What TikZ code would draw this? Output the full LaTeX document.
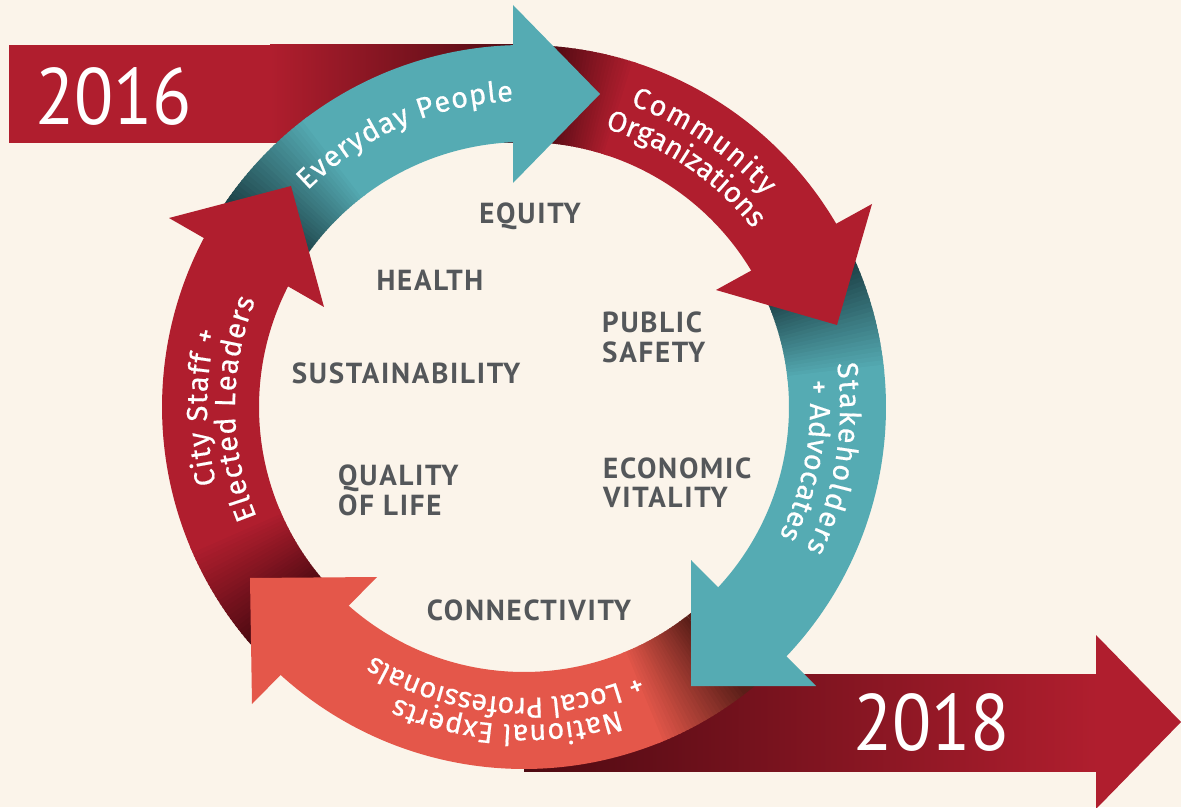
\documentclass[tikz,border=0pt]{standalone}
\usepackage{fontspec}
\setmainfont{PT Sans}
\newfontfamily\arcfam{Fira Sans}[FakeBold=0.5]
\newfontfamily\lblfam{PT Sans}[LetterSpace=6]
\usetikzlibrary{decorations.text}
\definecolor{bg}{HTML}{FBF4EA}
\definecolor{cred}{HTML}{B01E2E}
\definecolor{cteal}{HTML}{55ABB3}
\definecolor{csalmon}{HTML}{E4574A}
\definecolor{cgray}{HTML}{54575A}
\definecolor{dred}{HTML}{4E0A12}
\definecolor{dteal}{HTML}{1C4046}
\definecolor{dsalmon}{HTML}{5A1E18}
\newcommand\annsec[3]{\fill[#3] (#1:362) arc[start angle=#1,end angle=#2,radius=362] -- (#2:265) arc[start angle=#2,end angle=#1,radius=265] -- cycle;}
\newcommand\gradsec[5]{\foreach \k in {0,...,#5}{\pgfmathsetmacro\gA{#1+(#2-#1)*\k/(#5+1)}\pgfmathsetmacro\gB{#1+(#2-#1)*(\k+1)/(#5+1)-0.3}\pgfmathtruncatemacro\gP{100*\k/#5}\annsec{\gA}{\gB}{#4!\gP!#3}}}
\newcommand\arcfont{\arcfam\fontsize{29}{29}\selectfont}
\newcommand\arctext[4]{\path[decorate,decoration={text along path,text align={fit to path},text color=white,text={|\arcfont|#4}}] (#2:#1) arc[start angle=#2,end angle=#3,radius=#1];}
\begin{document}
\begin{tikzpicture}[x=1pt,y=1pt,
  lbl/.style={text=cgray,font=\lblfam\fontsize{29}{29}\selectfont\bfseries,inner sep=0pt},
  yr/.style={text=white,font=\fontsize{80}{80}\selectfont,inner sep=0pt}]
\useasboundingbox (0,0) rectangle (1181,807);
\fill[bg] (0,0) rectangle (1181,807);
% 2016 bar
\fill[cred] (9,664) rectangle (272,762);
\shade[left color=cred,right color=dred] (270,664) rectangle (525,762);
% 2018 bar
\shade[left color=dred,right color=cred] (524,36) rectangle (1097,133);
\fill[cred] (1096,172) -- (1181,85) -- (1096,-2) -- cycle;
\begin{scope}[shift={(524,400)}]
 % Community
 \annsec{90.5}{86}{dred}
 \gradsec{86}{72}{dred}{cred}{24}
 \annsec{72.3}{29}{cred}
 % Stakeholders
 \annsec{29.5}{24}{dteal}
 \gradsec{24}{6}{dteal}{cteal}{24}
 \annsec{6.3}{-45}{cteal}
 % National experts
 \annsec{-44.5}{-52}{dsalmon}
 \gradsec{-52}{-68}{dsalmon}{csalmon}{24}
 \annsec{-67.7}{-133.5}{csalmon}
 % City staff
 \annsec{226}{221}{dred}
 \gradsec{221}{203}{dred}{cred}{24}
 \annsec{203.3}{150.5}{cred}
 % Everyday
 \annsec{151}{146}{dteal}
 \gradsec{146}{127}{dteal}{cteal}{24}
 \annsec{127.3}{90}{cteal}
\end{scope}
% heads
\fill[cteal] (513,802) -- (600,713) -- (513,624) -- cycle;
\fill[cred] (872,603) -- (837,482) -- (716,517) -- cycle;
\fill[cteal] (691,247) -- (691,121) -- (816,121) -- cycle;
\fill[csalmon] (377,230) -- (250,229) -- (252,103) -- cycle;
\fill[cred] (169,589) -- (291,621) -- (324,500) -- cycle;
% arc texts
\begin{scope}[shift={(524,400)}]
\arctext{306}{135}{92}{Everyday People}
\arctext{320}{70.6}{41.3}{Community}
\arctext{290}{73.8}{38}{Organizations}
\arctext{316}{7.9}{-26.8}{Stakeholders}
\arctext{286}{5.3}{-26.8}{+ Advocates}
\arctext{318}{-72.6}{-113.7}{National Experts}
\arctext{291}{-66.7}{-120.8}{+ Local Professionals}
\arctext{317}{194}{166.1}{City Staff +}
\arctext{289}{202.4}{158.3}{Elected Leaders}
\end{scope}
% labels
\node[lbl,anchor=base] (equity) at (530,583) {EQUITY};
\node[lbl,anchor=base] (health) at (430,516) {HEALTH};
\node[lbl,anchor=base west] (public) at (602,474) {PUBLIC};
\node[lbl,anchor=base west] (safety) at (602,444) {SAFETY};
\node[lbl,anchor=base] (sust) at (406,423) {SUSTAINABILITY};
\node[lbl,anchor=base west] (quality) at (338,321) {QUALITY};
\node[lbl,anchor=base west] (oflife) at (338,292) {OF LIFE};
\node[lbl,anchor=base west] (econ) at (603,328) {ECONOMIC};
\node[lbl,anchor=base west] (vital) at (603,300) {VITALITY};
\node[lbl,anchor=base] (conn) at (529,187) {CONNECTIVITY};
\node[yr] (y2016) at (113.5,710.5) {\scalebox{0.9}[1]{2016}};
\node[yr] (y2018) at (931.5,85) {\scalebox{0.9}[1]{2018}};
\end{tikzpicture}
\end{document}
